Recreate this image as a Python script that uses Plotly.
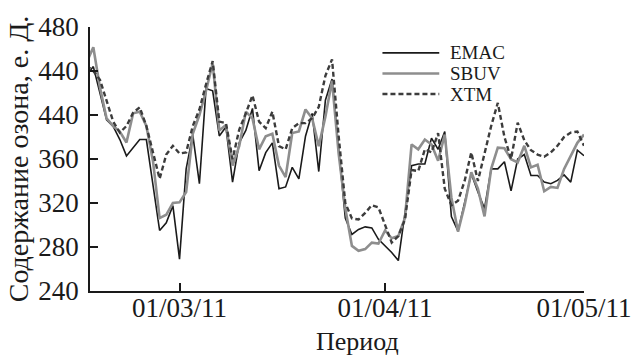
import pandas as pd
import plotly.graph_objects as go

dates = pd.date_range("2011-02-15", "2011-05-01", freq="D")

emac = [436, 444, 420, 395.5, 389.6, 377.7, 362.8, 370, 377.7, 377.7,
        335, 295, 302, 317.6, 269, 351, 382, 337.5, 424, 422,
        381, 389, 339, 374.7, 386, 406, 349.4, 365.8, 374.7, 333,
        334.6, 352.4, 342, 380.7, 401.5, 348.6, 413.4, 432.7, 369, 306.3,
        291.4, 296, 298.3, 297.4, 287, 281, 275, 267.7, 310, 354,
        355.4, 355.4, 379, 368.8, 385, 307.7, 294.4, 322, 346.5, 330,
        315, 351, 351, 357.5, 331, 360, 364, 345, 345, 339,
        337.5, 340.5, 345.6, 339, 368, 363]

sbuv = [448, 461.6, 425, 397, 390, 385, 375, 401.5, 403, 390,
        358, 306.3, 309.3, 320, 320.6, 330, 383, 400, 422, 447,
        386, 391, 354, 371.7, 403, 397, 368.8, 380.7, 383, 354,
        343.5, 383.6, 385, 405, 397, 371.7, 398.5, 431.2, 365, 315.2,
        281, 276.6, 278.1, 284, 283.1, 295, 287.9, 290, 306.3, 373.2,
        368.8, 377.7, 373.2, 358.4, 382.2, 325, 294, 318, 348, 333,
        307.8, 351, 370.3, 369.7, 359.8, 356.9, 372, 352.4, 354.8, 330.7,
        334.6, 333.7, 351, 362.8, 374.7, 382.2]

xtm = [445, 440, 432, 412, 394, 384, 390, 402, 407, 390,
       367, 342, 364, 372, 365, 366, 390, 405, 428, 449,
       394, 392.6, 359.8, 386.6, 401.5, 417.8, 394, 388, 403, 371.7,
       368.8, 388, 392.6, 392.6, 397, 407.4, 435.7, 450.6, 380.7, 320,
       306, 305, 311, 318, 316, 299, 284, 290, 305, 350,
       349, 368.8, 366, 383.6, 333, 318, 322, 340, 366, 340,
       366, 390, 411, 380, 360, 393, 377, 368, 364, 362,
       366, 372, 380, 384, 385, 372]

series_names = ["EMAC", "SBUV", "XTM"]
x_tickvals = ["2011-03-01", "2011-04-01", "2011-05-01"]
x_ticktext = ["01/03/11", "01/04/11", "01/05/11"]
y_tickvals = [240, 280, 320, 360, 400, 440, 480]
y_ticktext = ["240", "280", "320", "360", "440", "440", "480"]
x_title = "Период"
y_title = "Содержание озона, е. Д."

FONT = "Liberation Serif, Times New Roman, serif"
INK = "#1a1a1a"
styles = [
    dict(color="#1a1a1a", width=1.6, dash="solid"),
    dict(color="#8e8e8e", width=2.6, dash="solid"),
    dict(color="#3c3c3c", width=2.4, dash="5px,3px"),
]

fig = go.Figure()
for name, vals, st in zip(series_names, [emac, sbuv, xtm], styles):
    fig.add_trace(go.Scatter(x=dates, y=vals, mode="lines", name=name,
                             line=st, showlegend=False))

# compact legend (top right, inside the plot)
leg_y = [0.902, 0.824, 0.746]
for name, st, yy in zip(series_names, styles, leg_y):
    fig.add_shape(type="line", xref="paper", yref="paper",
                  x0=0.592, x1=0.707, y0=yy, y1=yy, line=st)
    fig.add_annotation(text=name, xref="paper", yref="paper", x=0.725, y=yy,
                       xanchor="left", yanchor="middle", showarrow=False,
                       font=dict(family=FONT, size=19, color=INK))

# x-axis title (sits right of centre in the reference)
fig.add_annotation(text=x_title, xref="paper", yref="paper", x=0.541, y=-0.19,
                   xanchor="center", yanchor="middle", showarrow=False,
                   font=dict(family=FONT, size=26, color=INK))

fig.update_layout(
    width=644, height=357,
    margin=dict(l=90, r=49, t=22, b=66),
    paper_bgcolor="white", plot_bgcolor="white",
    font=dict(family=FONT, size=27, color=INK),
    xaxis=dict(
        type="date", range=["2011-02-15 12:00", "2011-05-01"],
        tickvals=x_tickvals, ticktext=x_ticktext,
        ticks="inside", ticklen=8, tickwidth=1.5, tickcolor=INK,
        showline=True, linecolor=INK, linewidth=1.5,
        showgrid=False, zeroline=False,
        tickfont=dict(family=FONT, size=27, color=INK),
        ticklabelstandoff=-8,
    ),
    yaxis=dict(
        range=[240, 480],
        tickvals=y_tickvals, ticktext=y_ticktext,
        ticks="inside", ticklen=8, tickwidth=1.5, tickcolor=INK,
        showline=True, linecolor=INK, linewidth=1.5,
        showgrid=False, zeroline=False,
        tickfont=dict(family=FONT, size=27, color=INK),
        ticklabelstandoff=4,
        title=dict(text=y_title, font=dict(family=FONT, size=28, color=INK), standoff=2),
    ),
)

fig.write_html("out.html")
